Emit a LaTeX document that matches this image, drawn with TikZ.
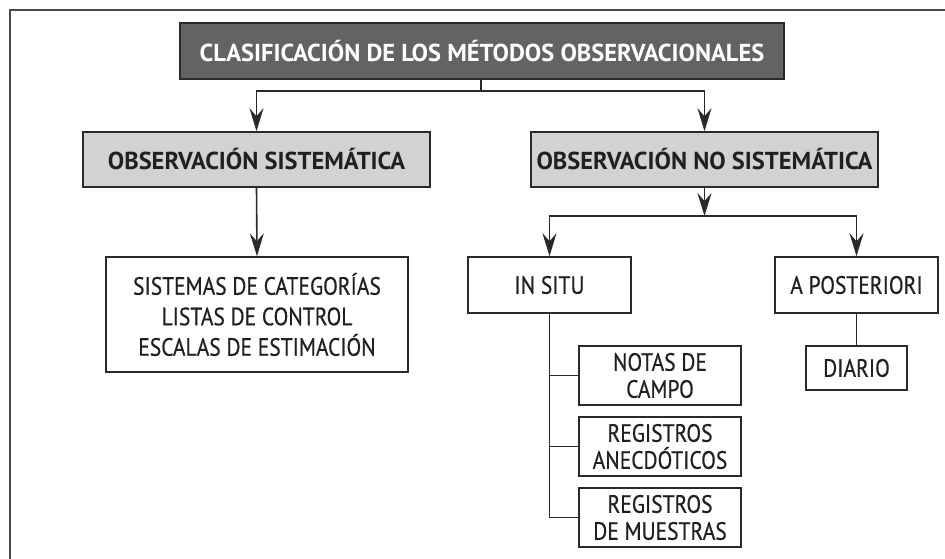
\documentclass[tikz,border=0pt]{standalone}
\usepackage{fontspec}
\setmainfont{PT Sans}[FakeStretch=0.86,FakeBold=0.6]
\newfontfamily\headfont{PT Sans}[FakeStretch=1.0]
\usetikzlibrary{arrows.meta}
\definecolor{darkbox}{HTML}{636365}
\definecolor{lightbox}{HTML}{D1D2D4}
\definecolor{inkc}{HTML}{231F20}
\definecolor{linec}{HTML}{2A2A2A}
\begin{document}
\begin{tikzpicture}[x=1pt,y=-1pt,
  box/.style={draw=linec,line width=1.5pt,inner sep=0pt,text=inkc,align=center,
    font=\fontsize{25}{27}\selectfont},
  titlebox/.style={box,fill=darkbox,text=white,font=\headfont\bfseries\fontsize{24.5}{27}\selectfont},
  catbox/.style={box,fill=lightbox,font=\headfont\bfseries\fontsize{24.5}{27}\selectfont},
  conn/.style={draw=linec,line width=1.6pt},
  arr/.style={conn,-{Stealth[length=23pt,width=14pt,inset=8pt]}}]
\useasboundingbox (0,0) rectangle (945,559);
\draw[draw=linec!85,line width=1.5pt] (10,559) -- (10,10) -- (945,10);
\node[titlebox,minimum width=604,minimum height=56] (top) at (482,51) {CLASIFICACIÓN DE LOS MÉTODOS OBSERVACIONALES};
\node[catbox,minimum width=347,minimum height=55] (obsS) at (256.5,159.5) {OBSERVACIÓN SISTEMÁTICA};
\node[catbox,minimum width=347,minimum height=55] (obsN) at (704.5,159.5) {OBSERVACIÓN NO SISTEMÁTICA};
\node[box,minimum width=302,minimum height=115,font=\fontsize{25}{30.5}\selectfont] (sist) at (257,314.5) {SISTEMAS DE CATEGORÍAS\\LISTAS DE CONTROL\\ESCALAS DE ESTIMACIÓN};
\node[box,minimum width=163,minimum height=56] (insitu) at (549.5,285) {IN SITU};
\node[box,minimum width=163,minimum height=56] (apost) at (856.5,285) {A POSTERIORI};
\node[box,minimum width=101,minimum height=44] (diario) at (856.5,368) {DIARIO};
\node[box,minimum width=162,minimum height=59] (notas) at (660,375.5) {NOTAS DE\\CAMPO};
\node[box,minimum width=162,minimum height=59] (anec) at (660,446.5) {REGISTROS\\ANECDÓTICOS};
\node[box,minimum width=162,minimum height=59] (muest) at (660,517.5) {REGISTROS\\DE MUESTRAS};
\coordinate (j1) at (481,91);
\coordinate (j2) at (704.5,216);
\draw[conn] (top.south -| j1) -- (j1);
\draw[arr] (j1) -| (obsS.north);
\draw[arr] (j1) -| (obsN.north);
\draw[arr] (obsS.south) -- (sist.north);
\draw[arr] (obsN.south) -- (j2);
\draw[arr] (j2) -| (insitu.north);
\draw[arr] (j2) -| (apost.north);
\draw[conn] (insitu.south) -- (insitu.south |- muest.west) -- (muest.west);
\draw[conn] (insitu.south |- notas.west) -- (notas.west);
\draw[conn] (insitu.south |- anec.west) -- (anec.west);
\draw[conn] (apost.south) -- (diario.north);
\end{tikzpicture}
\end{document}
